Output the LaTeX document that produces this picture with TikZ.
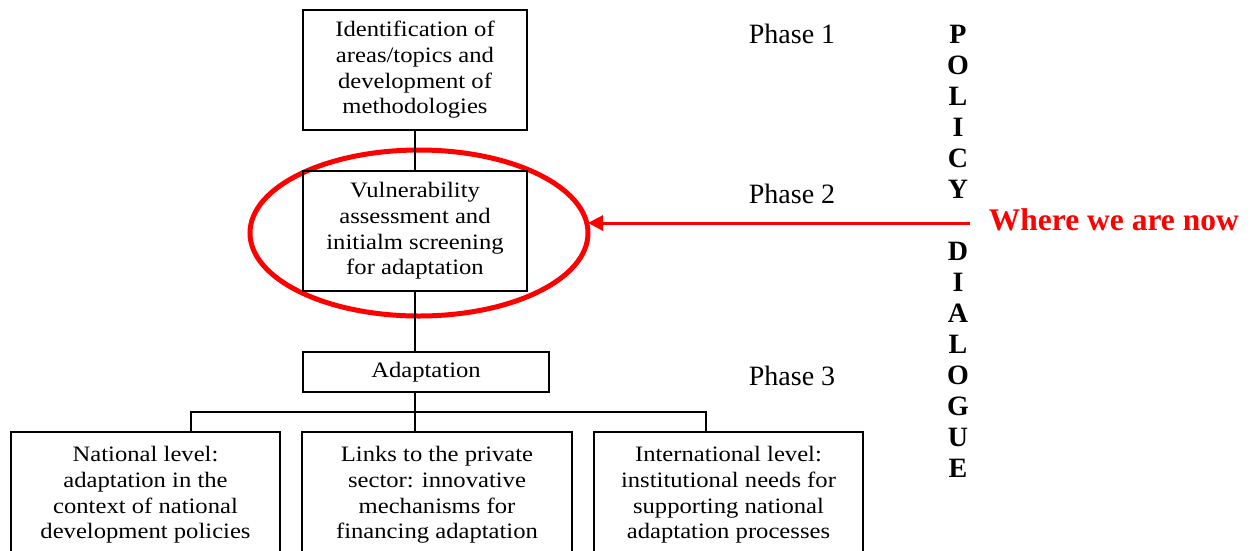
\documentclass[tikz,border=0pt]{standalone}
\usepackage{fontspec}
\setmainfont{Liberation Serif}
\newfontfamily\boxfont{Liberation Serif}[FakeStretch=1.12]
\usetikzlibrary{arrows.meta,positioning,shapes.geometric}

\begin{document}
\begin{tikzpicture}[x=1pt,y=-1pt,line width=1.8pt,
    box/.style={draw,inner sep=0pt,outer sep=0pt,align=center,
      font=\boxfont\fontsize{22}{25.7}\selectfont},
    phase/.style={anchor=base west,inner sep=0pt,font=\fontsize{28}{30}\selectfont},
    letter/.style={anchor=base,inner sep=0pt,font=\bfseries\fontsize{28}{30}\selectfont},
    marker/.style={draw=red,line width=3pt,-{Triangle[length=15pt,width=15pt]}}]
  \useasboundingbox (0,0) rectangle (1251,550);
  % red ring round phase 2
  \node[draw=red,line width=5pt,ellipse,outer sep=0pt,
    minimum width=338pt,minimum height=166pt] (ring) at (419,233) {};
  % phase boxes
  \node[box,minimum width=224pt,minimum height=120pt] (ident) at (415,70)
    {Identification of\\areas/topics and\\development of\\methodologies};
  \node[box,minimum width=224pt,minimum height=120pt] [below=41pt of ident] (vuln)
    {Vulnerability\\assessment and\\initialm screening\\for adaptation};
  \node[box,minimum width=246pt,minimum height=40pt] (adapt) at (426,372) {Adaptation};
  \node[box,minimum width=269pt,minimum height=126pt] (natl) at (145.5,495)
    {National level:\\adaptation in the\\context of national\\development policies};
  \node[box,minimum width=270pt,minimum height=126pt] (priv) at (437,495)
    {Links to the private\\sector: innovative\\mechanisms for\\financing adaptation};
  \node[box,minimum width=269pt,minimum height=126pt] (intl) at (728.5,495)
    {International level:\\institutional needs for\\supporting national\\adaptation processes};
  % connectors
  \coordinate (bus) at (415,412);
  \coordinate (busL) at (191,412);
  \coordinate (busR) at (706,412);
  \draw (ident) -- (vuln);
  \draw (vuln.south) -- (vuln.south |- adapt.north);
  \draw (vuln.south |- adapt.south) -- (bus);
  \draw (busL |- natl.north) -- (busL) -- (busR) -- (busR |- intl.north);
  \draw (bus) -- (bus |- priv.north);
  % phases
  \node[phase] (phase1) at (748,43) {Phase 1};
  \node[phase] (phase2) at (748,203) {Phase 2};
  \node[phase] (phase3) at (748,385) {Phase 3};
  % policy dialogue
  \foreach \ch [count=\k from 0] in {P,O,L,I,C,Y}
    \node[letter] (pol\k) at (958,43+31*\k) {\ch};
  \foreach \ch [count=\k from 7] in {D,I,A,L,O,G,U,E}
    \node[letter] (dia\k) at (958,43+31*\k) {\ch};
  % where we are now
  \node[anchor=base west,inner sep=0pt,text=red,
    font=\bfseries\fontsize{31.5}{33}\selectfont] (where) at (988,230) {Where we are now};
  \coordinate (tail) at (970,223);
  \draw[marker] (tail) -- (tail -| ring.east);
\end{tikzpicture}
\end{document}
